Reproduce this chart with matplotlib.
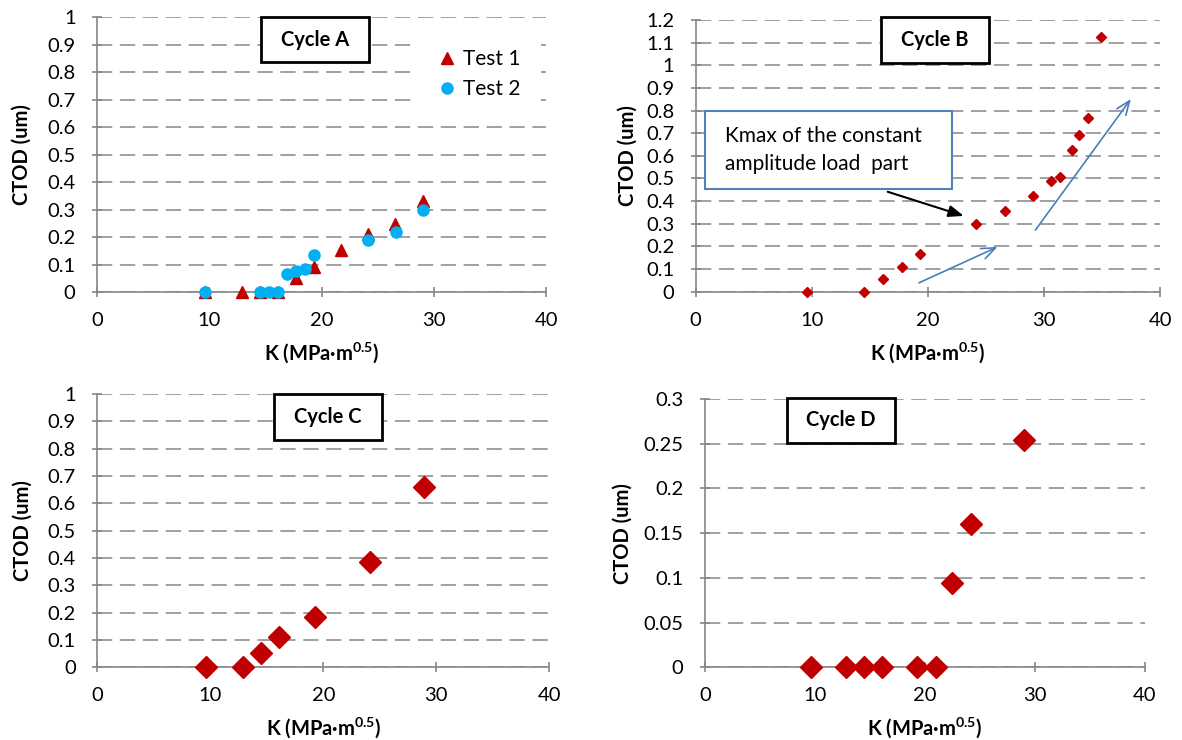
import numpy as np
import matplotlib
matplotlib.use("Agg")
import matplotlib.pyplot as plt
from matplotlib.patches import Rectangle

plt.rcParams['font.family'] = ['Lato', 'DejaVu Sans']
plt.rcParams['mathtext.fontset'] = 'custom'
plt.rcParams['mathtext.rm'] = 'Lato'
plt.rcParams['mathtext.bf'] = 'Lato:bold'

# ---- data ----
a_t1_k = [9.6, 12.9, 14.5, 16.1, 17.7, 19.3, 21.7, 24.1, 26.5, 29.0]
a_t1_ctod = [0.0, 0.0, 0.0, 0.0, 0.051, 0.091, 0.154, 0.212, 0.246, 0.331]
a_t2_k = [9.6, 14.5, 15.3, 16.1, 16.9, 17.7, 18.5, 19.3, 24.1, 26.6, 29.0]
a_t2_ctod = [0.0, 0.0, 0.0, 0.0, 0.064, 0.076, 0.085, 0.133, 0.188, 0.217, 0.300]

b_k = [9.6, 14.5, 16.1, 17.8, 19.3, 24.1, 26.6, 29.0, 30.6, 31.4, 32.4, 33.0, 33.8, 34.9]
b_ctod = [0.0, 0.0, 0.056, 0.110, 0.165, 0.300, 0.358, 0.424, 0.489, 0.505, 0.626, 0.691, 0.767, 1.124]

c_k = [9.6, 12.9, 14.5, 16.1, 19.3, 24.1, 28.9]
c_ctod = [0.0, 0.0, 0.052, 0.112, 0.185, 0.384, 0.659]

d_k = [9.6, 12.8, 14.5, 16.1, 19.3, 21.0, 22.5, 24.2, 29.0]
d_ctod = [0.0, 0.0, 0.0, 0.0, 0.0, 0.0, 0.094, 0.160, 0.254]

red = '#C00000'
blue = '#00B0F0'
grey = '#868686'
fs = 14.5

fig = plt.figure(figsize=(11.82, 7.4), dpi=100)
axA = fig.add_axes([0.0821, 0.6054, 0.3799, 0.3716])
axB = fig.add_axes([0.5886, 0.6058, 0.3931, 0.3672])
axC = fig.add_axes([0.0823, 0.0982, 0.3824, 0.3693])
axD = fig.add_axes([0.5964, 0.0982, 0.3723, 0.3626])


def style(ax, ymax, ystep, ylab_x, xlab_y):
    ax.set_xlim(0, 40)
    ax.set_ylim(0, ymax)
    ax.set_xticks(np.arange(0, 41, 10))
    ax.set_yticks(np.arange(0, ymax + ystep / 2, ystep))
    ax.yaxis.set_major_formatter(matplotlib.ticker.FormatStrFormatter('%g'))
    for s in ['top', 'right']:
        ax.spines[s].set_visible(False)
    for s in ['left', 'bottom']:
        ax.spines[s].set_color(grey)
        ax.spines[s].set_linewidth(1.2)
    ax.tick_params(direction='inout', length=7, width=1.2, color=grey,
                   labelsize=fs)
    ax.tick_params(axis='y', pad=12)
    ax.tick_params(axis='x', pad=11)
    ax.grid(axis='y', color=grey, linestyle=(0, (10, 5)), linewidth=1.1)
    ax.set_axisbelow(True)
    ax.set_ylabel('CTOD (um)', fontsize=fs, fontweight='bold')
    ax.set_xlabel(r'K (MPa·m$^{\mathbf{0.5}}$)', fontsize=fs, fontweight='bold')
    ax.yaxis.set_label_coords(ylab_x, 0.5)
    ax.xaxis.set_label_coords(0.5, xlab_y)


def title_box(ax, x0, y0, w, h, txt):
    ax.add_patch(Rectangle((x0, y0), w, h, transform=ax.transAxes, fc='white',
                           ec='black', lw=2, zorder=5, clip_on=False))
    ax.text(x0 + w / 2, y0 + h / 2, txt, transform=ax.transAxes, ha='center',
            va='center', fontsize=fs, fontweight='bold', zorder=6)


style(axA, 1.0, 0.1, -0.145, -0.175)
style(axB, 1.2, 0.1, -0.126, -0.177)
style(axC, 1.0, 0.1, -0.144, -0.176)
style(axD, 0.3, 0.05, -0.164, -0.179)

# Cycle A
axA.plot(a_t1_k, a_t1_ctod, '^', color=red, ms=8, label='Test 1', clip_on=False, zorder=3)
axA.plot(a_t2_k, a_t2_ctod, 'o', color=blue, ms=8, label='Test 2', clip_on=False, zorder=4)
leg = axA.legend(loc='upper left', bbox_to_anchor=(0.705, 0.96), fontsize=15,
                 frameon=True, fancybox=False, framealpha=1, edgecolor='none',
                 facecolor='white', handletextpad=0.15, handlelength=1.2,
                 borderpad=1.0, labelspacing=0.5, borderaxespad=0)
leg.set_zorder(5)
title_box(axA, 0.365, 0.836, 0.2405, 0.1636, 'Cycle A')

# Cycle B
axB.plot(b_k, b_ctod, 'D', color=red, ms=5.5, clip_on=False, zorder=3)
title_box(axB, 0.399, 0.842, 0.2325, 0.169, 'Cycle B')
axB.add_patch(Rectangle((0.8, 0.454), 21.26, 0.344, fc='white', ec='#4F81BD', lw=1.5, zorder=4))
axB.text(2.5, 0.624, 'Kmax of the constant\namplitude load  part', fontsize=15,
         ha='left', va='center', linespacing=1.5, zorder=5)
axB.annotate('', xy=(23.3, 0.331), xytext=(16.3, 0.445),
             arrowprops=dict(arrowstyle='-|>,head_length=0.9,head_width=0.35',
                             color='black', lw=1.5), zorder=5)
axB.annotate('', xy=(26.2, 0.203), xytext=(19.0, 0.034),
             arrowprops=dict(arrowstyle='->,head_length=1.0,head_width=0.4',
                             color='#4A7EBB', lw=1.2))
axB.annotate('', xy=(37.6, 0.861), xytext=(29.1, 0.262),
             arrowprops=dict(arrowstyle='->,head_length=1.0,head_width=0.4',
                             color='#4A7EBB', lw=1.2))

# Cycle C
axC.plot(c_k, c_ctod, 'D', color=red, ms=11, clip_on=False, zorder=3)
title_box(axC, 0.391, 0.832, 0.239, 0.168, 'Cycle C')

# Cycle D
axD.plot(d_k, d_ctod, 'D', color=red, ms=11, clip_on=False, zorder=3)
title_box(axD, 0.186, 0.836, 0.245, 0.168, 'Cycle D')

fig.savefig('out.png', dpi=100)
